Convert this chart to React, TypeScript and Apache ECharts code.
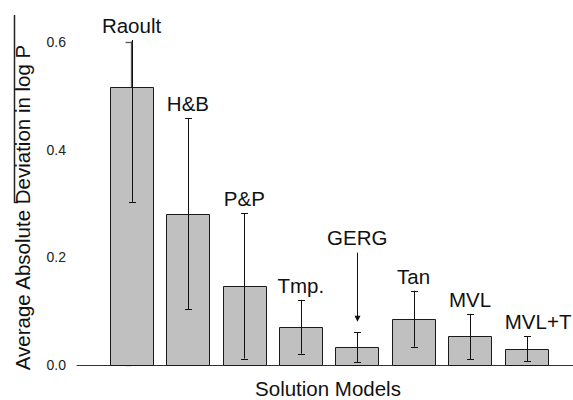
import React, { useEffect, useRef } from "react";
import * as echarts from "echarts";

// Solution models and their average absolute deviation in log P (bar height)
const categories = ["Raoult", "H&B", "P&P", "Tmp.", "GERG", "Tan", "MVL", "MVL+T"];
const deviation = [0.517, 0.281, 0.147, 0.071, 0.033, 0.086, 0.053, 0.03];
// Half-length of each error bar (symmetric about the bar top)
const errorHalf = [0.214, 0.177, 0.135, 0.05, 0.028, 0.052, 0.042, 0.023];
// Y axis range and tick step
const Y_MIN = 0;
const Y_MAX = 0.6;
const Y_STEP = 0.2;

// Labels that get a pointer arrow instead of sitting directly above the error bar
const calloutLabels = ["GERG"];
// Labels aligned to the bar's left edge instead of its centre
const leftAlignedLabels = ["MVL+T"];

const FONT = "'Liberation Sans', Arial, Helvetica, sans-serif";
const BAR_WIDTH = 0.77; // in category units
const LABEL_SIZE = 20.5;

export default function App() {
  const ref = useRef<HTMLDivElement>(null);

  useEffect(() => {
    if (!ref.current) return;
    const chart = echarts.init(ref.current, undefined, { renderer: "svg" });

    const data = categories.map((name, i) => [i, deviation[i], errorHalf[i], name]);

    const renderItem = (params: any, api: any) => {
      const i = api.value(0);
      const v = api.value(1);
      const err = api.value(2);
      const name = categories[i];
      const [cx, yv] = api.coord([i, v]);
      const y0 = api.coord([i, Y_MIN])[1];
      const w = api.size([BAR_WIDTH, 0])[0];
      const yAxisTop = api.coord([i, Y_MAX])[1];
      let yHi = api.coord([i, v + err])[1];
      const clipped = yHi < yAxisTop - 2;
      if (clipped) yHi = yAxisTop - 2;
      const yLo = api.coord([i, v - err])[1];
      const x = Math.round(cx) + 0.5;
      const cap = 3.5;
      const stroke = { stroke: "#111", lineWidth: 1 };

      const children: any[] = [
        {
          type: "rect",
          shape: { x: Math.round(cx - w / 2) + 0.5, y: Math.round(yv) + 0.5, width: Math.round(w), height: Math.round(y0 - yv) },
          style: { fill: "#c0c0c0", stroke: "#1a1a1a", lineWidth: 1 },
        },
        { type: "line", shape: { x1: x, y1: yHi, x2: x, y2: yLo }, style: stroke },
        { type: "line", shape: { x1: x - cap, y1: Math.round(yLo) + 0.5, x2: x + cap, y2: Math.round(yLo) + 0.5 }, style: stroke },
      ];
      if (!clipped) {
        children.push({ type: "line", shape: { x1: x - cap, y1: Math.round(yHi) + 0.5, x2: x + cap, y2: Math.round(yHi) + 0.5 }, style: stroke });
      }

      const leftAligned = leftAlignedLabels.includes(name);
      const textX = leftAligned ? cx - w / 2 : cx;
      let baseline = yHi - 9.5;
      if (calloutLabels.includes(name)) {
        const tip = yHi - 10.5;
        const tail = tip - 69;
        children.push({ type: "line", shape: { x1: x, y1: tail, x2: x, y2: tip - 5 }, style: stroke });
        children.push({
          type: "polygon",
          shape: { points: [[x - 3, tip - 6], [x + 3, tip - 6], [x, tip]] },
          style: { fill: "#111" },
        });
        baseline = tail - 10;
      }
      children.push({
        type: "text",
        x: textX,
        y: baseline + 5.5,
        style: {
          text: name,
          fontSize: LABEL_SIZE,
          fontFamily: FONT,
          fill: "#111",
          align: leftAligned ? "left" : "center",
          verticalAlign: "bottom",
        },
      });
      return { type: "group", children };
    };

    chart.setOption({
      animation: false,
      backgroundColor: "#ffffff",
      grid: { left: 77, right: 0, top: 42, bottom: 35, containLabel: false, outerBoundsMode: "none" },
      xAxis: {
        type: "value",
        min: -0.966,
        max: 7.824,
        name: "Solution Models",
        nameLocation: "middle",
        nameGap: 13,
        nameTextStyle: { fontSize: LABEL_SIZE, fontFamily: FONT, color: "#111", padding: [0, 0, 0, 6], lineHeight: 20 },
        axisLine: { show: true, lineStyle: { color: "#333", width: 1.2 } },
        axisTick: { show: false },
        axisLabel: { show: false },
        splitLine: { show: false },
      },
      yAxis: {
        type: "value",
        min: Y_MIN,
        max: Y_MAX,
        interval: Y_STEP,
        name: "Average Absolute Deviation in log P",
        nameLocation: "middle",
        nameRotate: 90,
        nameGap: 44,
        nameTextStyle: { fontSize: LABEL_SIZE, fontFamily: FONT, color: "#111", padding: [0, 8, 0, 0] },
        axisLine: { show: true, lineStyle: { color: "#555", width: 1.3 } },
        axisTick: { show: true, inside: false, length: 6, lineStyle: { color: "#555", width: 1.3 } },
        minorTick: { show: true, splitNumber: 2, length: 4, lineStyle: { color: "#555", width: 1.3 } },
        axisLabel: {
          margin: 11,
          fontSize: 14,
          fontFamily: FONT,
          color: "#222",
          formatter: (val: number) => val.toFixed(1),
        },
        splitLine: { show: false },
        minorSplitLine: { show: false },
      },
      graphic: [
        { type: "line", shape: { x1: 14.5, y1: 15, x2: 14.5, y2: 203 }, style: { stroke: "#222", lineWidth: 1.5 } },
        { type: "line", shape: { x1: 14.5, y1: 202.5, x2: 18, y2: 202.5 }, style: { stroke: "#222", lineWidth: 1.5 } },
      ],
      series: [
        {
          type: "custom",
          renderItem,
          data,
          clip: false,
          encode: { x: 0, y: 1 },
        },
      ],
    });

    return () => chart.dispose();
  }, []);

  return <div ref={ref} style={{ position: "fixed", left: 0, top: 0, width: 573, height: 400 }} />;
}
